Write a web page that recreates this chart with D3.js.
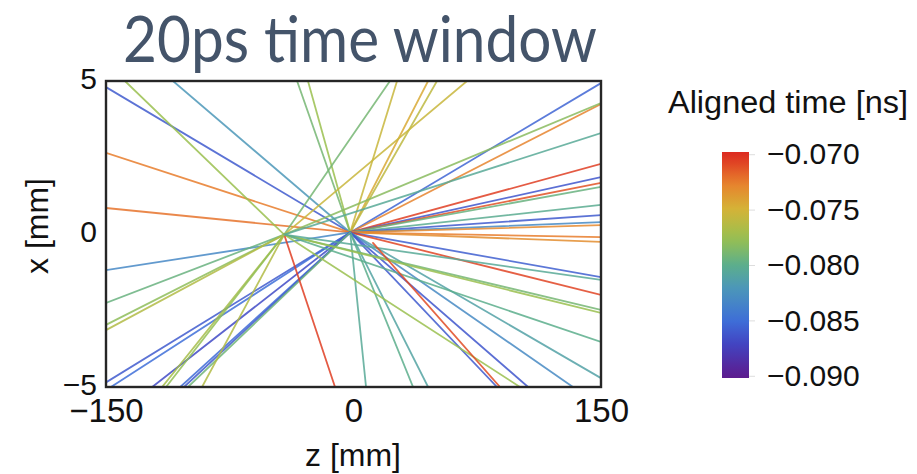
<!DOCTYPE html>
<html>
<head>
<meta charset="utf-8">
<script src="https://cdn.jsdelivr.net/npm/d3@7"></script>
<style>
  html, body { margin: 0; padding: 0; background: #ffffff; }
  svg { display: block; }
</style>
</head>
<body>
<svg id="chart" width="917" height="474"></svg>
<script>
// ---- data -------------------------------------------------------------
const titleText = "20ps time window";
const zTicks = [-150, 0, 150];
const xTicks = [-5, 0, 5];
const timeTicks = [-0.070, -0.075, -0.080, -0.085, -0.090];

// reconstructed vertices (z, x) in mm
const vertexZ = [-2, -42];
const vertexX = [0.05, -0.02];

// tracks: origin vertex, point where the track leaves the view (z, x) and its aligned time [ns]
const trackVertex = [
  0, 0, 0, 0, 0, 0, 0, 0, 0, 0,
  0, 0, 0, 0, 0, 0, 0, 0, 0, 0,
  0, 0, 0, 0, 0, 0, 0, 0, 0, 0,
  0, 0, 0, 0, 0, 0, 0,
  1, 1, 1, 1, 1, 1, 1, 1, 1, 1,
  1, 1, 1, 1, 1, 1, 1
];
const trackEndZ = [
  -150, -109.4, -150, -150, -150, -34.2, -27.6, 26.4, 45.2, 50.6,
  150, 150, 150, 150, 150, 150, 150, 150, 150, 150,
  150, 150, 150, 150, 150, 133, 105.8, 87, 45.2, 36.1,
  7.6, -150, -147, -122, -105, -102.7, -100.3,
  -138.5, 22.1, 68.8, 150, 150, 150, 150, 150, 100.9, -11.2,
  -116, -113.6, -91.8, -150, -150, -150, 150
];
const trackEndX = [
  4.80, 5, 2.65, 0.85, -1.18, 5, 5, 5, 5, 5,
  4.93, 4.25, 2.29, 1.86, 1.67, 1.54, 0.95, 0.62, 0.39, 0.29,
  -0.10, -0.26, -1.41, -1.99, -4.71, -5, -5, -5, -5, -5,
  -5, -4.85, -5, -5, -5, -5, -5,
  5, 5, 5, 4.28, 3.30, -2.48, -2.58, -3.53, -5, -5,
  -5, -5, -5, -2.25, -2.97, -3.14, -1.50
];
const trackTime = [
  -0.0860, -0.0820, -0.0725, -0.0722, -0.0832, -0.0790, -0.0775, -0.0755, -0.0745, -0.0760,
  -0.0855, -0.0728, -0.0706, -0.0862, -0.0712, -0.0795, -0.0802, -0.0860, -0.0830, -0.0730,
  -0.0725, -0.0732, -0.0858, -0.0708, -0.0812, -0.0830, -0.0862, -0.0860, -0.0810, -0.0800,
  -0.0805, -0.0860, -0.0850, -0.0868, -0.0852, -0.0860, -0.0792,
  -0.0775, -0.0790, -0.0755, -0.0782, -0.0805, -0.0790, -0.0775, -0.0800, -0.0775, -0.0706,
  -0.0770, -0.0778, -0.0765, -0.0795, -0.0780, -0.0765, -0.0805
];

// a displaced track that does not start at either vertex
const displacedStartZ = [11.8];
const displacedStartX = [-0.29];
const displacedEndZ = [88.8];
const displacedEndX = [-5];
const displacedTime = [-0.0710];

// ---- layout -----------------------------------------------------------
const svg = d3.select("#chart");
const plot = { left: 106, right: 601, top: 81, bottom: 387 };
const font = "'Liberation Sans', Arial, Helvetica, sans-serif";

const zScale = d3.scaleLinear().domain([-150, 150]).range([plot.left, plot.right]);
const xScale = d3.scaleLinear().domain([-5, 5]).range([plot.bottom, plot.top]);

// rainbow colour function over the aligned-time range
const timeDomain = [-0.090, -0.070];
const rainbowStops = [0, 0.15, 0.25, 0.40, 0.50, 0.62, 0.75, 0.87, 1];
const rainbowColors = ["#5c1c8e", "#4146c4", "#3e6fd8", "#4c98b8", "#5cae8c",
                       "#98c050", "#d4b437", "#e8802d", "#dc2a20"];
const rainbow = d3.scaleLinear().domain(rainbowStops).range(rainbowColors)
  .interpolate(d3.interpolateRgb).clamp(true);
const timeNorm = d3.scaleLinear().domain(timeDomain).range([0, 1]).clamp(true);
const colorOf = t => rainbow(timeNorm(t));

// ---- title ------------------------------------------------------------
svg.append("text")
  .attr("x", 360).attr("y", 62)
  .attr("text-anchor", "middle")
  .attr("font-family", "Lato, 'Open Sans', sans-serif")
  .attr("font-size", 64)
  .attr("fill", "#44546A")
  .attr("textLength", 474)
  .attr("lengthAdjust", "spacingAndGlyphs")
  .text(titleText);

// ---- tracks -----------------------------------------------------------
svg.append("defs").append("clipPath").attr("id", "plotClip")
  .append("rect")
  .attr("x", plot.left).attr("y", plot.top)
  .attr("width", plot.right - plot.left).attr("height", plot.bottom - plot.top);

const tracks = trackVertex.map((v, i) => ({
  z0: vertexZ[v], x0: vertexX[v], z1: trackEndZ[i], x1: trackEndX[i], t: trackTime[i]
})).concat(displacedTime.map((t, i) => ({
  z0: displacedStartZ[i], x0: displacedStartX[i], z1: displacedEndZ[i], x1: displacedEndX[i], t
})));

svg.append("g").attr("clip-path", "url(#plotClip)")
  .selectAll("line").data(tracks).join("line")
  .attr("x1", d => zScale(d.z0)).attr("y1", d => xScale(d.x0))
  .attr("x2", d => zScale(d.z1)).attr("y2", d => xScale(d.x1))
  .attr("stroke", d => colorOf(d.t))
  .attr("stroke-width", 1.8)
  .attr("stroke-opacity", 0.85)
  .attr("stroke-linecap", "round");

// ---- frame & axes -----------------------------------------------------
svg.append("rect")
  .attr("x", plot.left).attr("y", plot.top)
  .attr("width", plot.right - plot.left).attr("height", plot.bottom - plot.top)
  .attr("fill", "none").attr("stroke", "#262626").attr("stroke-width", 2.4);

const axisB = svg.append("g")
  .attr("transform", `translate(0,${plot.bottom})`)
  .call(d3.axisBottom(zScale).tickValues(zTicks).tickSize(0).tickPadding(12).tickFormat(d3.format("d")));
axisB.selectAll("text").attr("font-size", 33);
const axisL = svg.append("g")
  .attr("transform", `translate(${plot.left},0)`)
  .call(d3.axisLeft(xScale).tickValues(xTicks).tickSize(0).tickPadding(9).tickFormat(d3.format("d")));
axisL.selectAll("text").attr("font-size", 30).attr("dy", "0.26em");
[axisB, axisL].forEach(g => {
  g.select(".domain").remove();
  g.selectAll("text").attr("font-family", font).attr("fill", "#111");
});

svg.append("text")
  .attr("x", 353).attr("y", 466)
  .attr("text-anchor", "middle")
  .attr("font-family", font).attr("font-size", 32).attr("fill", "#111")
  .text("z [mm]");
svg.append("text")
  .attr("transform", "translate(48,226) rotate(-90)")
  .attr("text-anchor", "middle")
  .attr("font-family", font).attr("font-size", 32).attr("fill", "#111")
  .text("x [mm]");

// ---- colour bar legend -----------------------------------------------
const bar = { x: 722, width: 27, top: 152, bottom: 378 };
const barScale = d3.scaleLinear().domain([-0.0902, -0.0698]).range([bar.bottom, bar.top]);

const grad = svg.select("defs").append("linearGradient")
  .attr("id", "timeGradient")
  .attr("x1", 0).attr("y1", 1).attr("x2", 0).attr("y2", 0);
d3.range(0, 1.0001, 0.05).forEach(f => {
  const t = barScale.invert(bar.bottom - f * (bar.bottom - bar.top));
  grad.append("stop").attr("offset", f).attr("stop-color", colorOf(t));
});
svg.append("rect")
  .attr("x", bar.x).attr("y", bar.top)
  .attr("width", bar.width).attr("height", bar.bottom - bar.top)
  .attr("fill", "url(#timeGradient)");

const barAxis = svg.append("g")
  .attr("transform", `translate(${bar.x + bar.width},0)`)
  .call(d3.axisRight(barScale).tickValues(timeTicks).tickSize(6).tickPadding(12).tickFormat(d3.format(".3f")));
barAxis.select(".domain").remove();
barAxis.selectAll("line").attr("stroke", "#dddddd");
barAxis.selectAll("text").attr("font-family", font).attr("font-size", 30).attr("fill", "#111");

svg.append("text")
  .attr("x", 668).attr("y", 113)
  .attr("font-family", font).attr("font-size", 31).attr("fill", "#111")
  .attr("textLength", 240)
  .attr("lengthAdjust", "spacingAndGlyphs")
  .text("Aligned time [ns]");
</script>
</body>
</html>
